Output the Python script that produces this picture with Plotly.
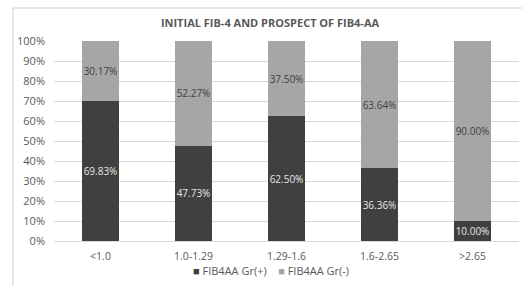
import plotly.graph_objects as go

categories = ["<1.0", "1.0-1.29", "1.29-1.6", "1.6-2.65", ">2.65"]
pos_values = [69.83, 47.73, 62.50, 36.36, 10.00]
neg_values = [30.17, 52.27, 37.50, 63.64, 90.00]
series_names = ["FIB4AA Gr(+)", "FIB4AA Gr(-)"]
series_colors = ["#404040", "#a6a6a6"]
y_ticks = [0, 10, 20, 30, 40, 50, 60, 70, 80, 90, 100]
y_tick_labels = [f"{v}%" for v in y_ticks]

W, H = 522, 286
L, R, T, B = 54, 3, 41, 45
pw = W - L - R
ph = H - T - B

def px_x(x):
    return (x - L) / pw

def px_y(y):
    return (H - B - y) / ph

FONT = "Open Sans"
TXT = "#595959"

fig = go.Figure()
fig.add_trace(go.Bar(
    x=categories, y=pos_values, name=series_names[0],
    marker=dict(color=series_colors[0], line=dict(width=0)),
    text=[f"{v:.2f}%" for v in pos_values],
    textposition="inside", insidetextanchor="middle", textangle=0,
    constraintext="none",
    textfont=dict(color="#e6e6e6", size=10, family=FONT),
    width=0.4, hoverinfo="skip",
))
fig.add_trace(go.Bar(
    x=categories, y=neg_values, name=series_names[1],
    marker=dict(color=series_colors[1], line=dict(width=0)),
    text=[f"{v:.2f}%" for v in neg_values],
    textposition="inside", insidetextanchor="middle", textangle=0,
    constraintext="none",
    textfont=dict(color="#404040", size=10, family=FONT),
    width=0.4, hoverinfo="skip",
))

legend_text = "    ".join(
    f"<span style='color:{c}'>■</span> {n}" for n, c in zip(series_names, series_colors)
)

fig.update_layout(
    width=W, height=H,
    margin=dict(l=L, r=R, t=T, b=B, autoexpand=False),
    barmode="stack",
    paper_bgcolor="white", plot_bgcolor="white",
    font=dict(family=FONT, size=10.5, color=TXT),
    uniformtext=dict(minsize=9, mode="show"),
    title=dict(
        text="<b>INITIAL FIB-4 AND PROSPECT OF FIB4-AA</b>",
        font=dict(size=11, color=TXT, family=FONT),
        x=px_x(270), xref="paper", xanchor="center",
        y=1 - 23 / H, yref="container", yanchor="middle",
    ),
    showlegend=False,
    annotations=[dict(
        text=legend_text, xref="paper", yref="paper",
        x=px_x(271), y=px_y(270), xanchor="center", yanchor="middle",
        showarrow=False, font=dict(size=11, color=TXT, family=FONT),
    )],
    xaxis=dict(
        showgrid=False, showline=True, linecolor="#d9d9d9", linewidth=1,
        ticks="", ticklabelstandoff=5,
        tickfont=dict(size=10.5, color=TXT), fixedrange=True,
    ),
    yaxis=dict(
        range=[0, 100], tickvals=y_ticks, ticktext=y_tick_labels,
        showgrid=True, gridcolor="#d9d9d9", gridwidth=1,
        zeroline=False, showline=False, ticks="",
        ticklabelstandoff=8,
        tickfont=dict(size=11, color=TXT), fixedrange=True,
    ),
    shapes=[
        dict(type="line", xref="paper", yref="paper",
             x0=px_x(13), x1=px_x(W + 5), y0=px_y(8), y1=px_y(8),
             line=dict(color="#d0d0d0", width=1)),
        dict(type="line", xref="paper", yref="paper",
             x0=px_x(13), x1=px_x(13), y0=px_y(8), y1=px_y(H + 5),
             line=dict(color="#d0d0d0", width=1)),
    ],
)

fig.write_html("out.html", config={"displayModeBar": False},
               post_script="document.body.style.margin='0px';")
